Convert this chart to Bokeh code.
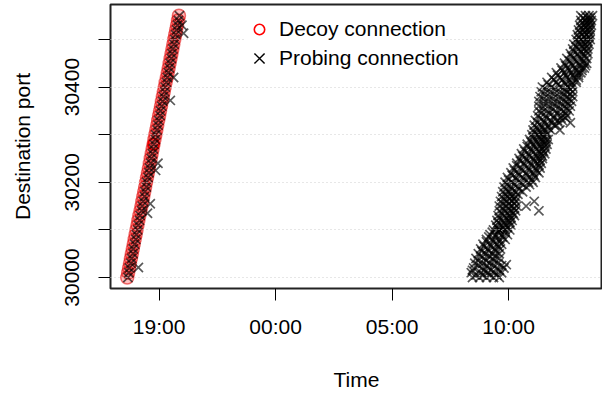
from bokeh.plotting import figure
from bokeh.models import FixedTicker, Range1d, Legend, LegendItem, ColumnDataSource
from bokeh.embed import file_html
from bokeh.resources import INLINE

# ---- data (hours since midnight of day 1; ports) ----
x_tick_values = [19, 24, 29, 34]
x_tick_labels = ["19:00", "00:00", "05:00", "10:00"]
y_tick_values = [30000, 30100, 30200, 30300, 30400, 30500]
y_tick_labels = ["30000", "", "30200", "", "30400", ""]

decoy_ports = [30000, 30010, 30020, 30030, 30040, 30050, 30060, 30070, 30080, 30090,
               30100, 30110, 30120, 30130, 30140, 30150, 30160, 30170, 30180, 30190,
               30200, 30210, 30220, 30230, 30240, 30250, 30260, 30270, 30280, 30290,
               30300, 30310, 30320, 30330, 30340, 30350, 30360, 30370, 30380, 30390,
               30400, 30410, 30420, 30430, 30440, 30450, 30460, 30470, 30480, 30490,
               30500, 30510, 30520, 30530, 30540, 30550]
decoy_times = [17.63, 17.67, 17.71, 17.75, 17.79, 17.83, 17.87, 17.91, 17.95, 17.99,
               18.03, 18.07, 18.11, 18.15, 18.20, 18.24, 18.28, 18.32, 18.36, 18.40,
               18.44, 18.48, 18.52, 18.56, 18.60, 18.64, 18.68, 18.72, 18.76, 18.80,
               18.84, 18.88, 18.92, 18.96, 19.00, 19.04, 19.08, 19.12, 19.16, 19.20,
               19.24, 19.28, 19.33, 19.37, 19.41, 19.45, 19.49, 19.53, 19.57, 19.61,
               19.65, 19.69, 19.73, 19.77, 19.81, 19.85]

# probing connections during the decoy phase
probe1_ports = decoy_ports + [30021, 30135, 30155, 30225, 30240, 30372, 30420, 30513, 30530]
probe1_times = [17.66, 17.70, 17.72, 17.79, 17.82, 17.88, 17.89, 17.95, 18.00, 18.02,
                18.08, 18.10, 18.16, 18.18, 18.25, 18.27, 18.31, 18.37, 18.39, 18.45,
                18.46, 18.52, 18.56, 18.58, 18.64, 18.66, 18.71, 18.75, 18.78, 18.84,
                18.85, 18.91, 18.95, 18.98, 19.04, 19.06, 19.11, 19.15, 19.18, 19.24,
                19.26, 19.31, 19.35, 19.39, 19.44, 19.47, 19.52, 19.55, 19.59, 19.64,
                19.67, 19.71, 19.75, 19.79, 19.83, 19.87,
                18.11, 18.50, 18.62, 18.85, 18.95, 19.48, 19.62, 20.05, 19.98]

# probing connections the next morning: rows of ports, times per row
probe2_row_ports = decoy_ports
probe2_row_times = [
    [32.45, 32.75, 33.05, 33.35, 33.60],
    [32.40, 32.80, 33.10, 33.40, 33.70],
    [32.50, 32.85, 33.15, 33.50, 33.80],
    [32.55, 32.90, 33.20, 33.55],
    [32.60, 32.95, 33.30, 33.60],
    [32.70, 33.00, 33.30, 33.60],
    [32.80, 33.10, 33.40, 33.65],
    [32.90, 33.20, 33.50, 33.70],
    [33.05, 33.30, 33.60, 33.85],
    [33.20, 33.45, 33.70, 33.95],
    [33.35, 33.60, 33.85, 34.05],
    [33.45, 33.70, 33.90, 34.10],
    [33.50, 33.75, 34.00, 34.15],
    [33.55, 33.80, 34.05, 34.25],
    [33.60, 33.85, 34.10, 34.30],
    [33.60, 33.90, 34.15, 34.35],
    [33.65, 33.90, 34.15, 34.30],
    [33.70, 33.95, 34.15, 34.30],
    [33.75, 34.00, 34.30, 34.60],
    [33.80, 34.10, 34.40, 34.75],
    [33.85, 34.15, 34.50, 34.85, 35.05],
    [33.95, 34.30, 34.60, 34.90, 35.15],
    [34.10, 34.40, 34.75, 35.05, 35.30],
    [34.20, 34.50, 34.85, 35.15, 35.35],
    [34.35, 34.65, 34.95, 35.25, 35.40],
    [34.45, 34.75, 35.05, 35.30, 35.45],
    [34.55, 34.85, 35.15, 35.40, 35.55],
    [34.65, 34.95, 35.20, 35.45, 35.60],
    [34.80, 35.05, 35.30, 35.55, 35.65],
    [34.90, 35.15, 35.40, 35.60, 35.70],
    [35.00, 35.25, 35.45, 35.65],
    [35.05, 35.30, 35.55, 35.80],
    [35.10, 35.40, 35.70, 35.95, 36.05],
    [35.15, 35.50, 35.80, 36.10, 36.30],
    [35.25, 35.60, 35.95, 36.30, 36.50],
    [35.30, 35.65, 36.00, 36.35, 36.60],
    [35.30, 35.70, 36.05, 36.40, 36.65],
    [35.30, 35.70, 36.10, 36.45, 36.70],
    [35.35, 35.75, 36.15, 36.50, 36.75],
    [35.40, 35.80, 36.20, 36.50, 36.75],
    [35.45, 35.85, 36.25, 36.55, 36.75],
    [35.65, 36.05, 36.40, 36.70, 36.90],
    [35.85, 36.20, 36.50, 36.80, 37.00],
    [36.05, 36.40, 36.70, 37.00, 37.10],
    [36.25, 36.55, 36.85, 37.15, 37.25],
    [36.40, 36.70, 37.00, 37.25, 37.35],
    [36.50, 36.80, 37.10, 37.35],
    [36.65, 36.95, 37.20, 37.40],
    [36.75, 37.00, 37.25, 37.40],
    [36.80, 37.05, 37.30, 37.45],
    [36.90, 37.10, 37.35, 37.50],
    [36.95, 37.15, 37.35, 37.50],
    [37.00, 37.20, 37.40, 37.50],
    [37.05, 37.25, 37.40, 37.55],
    [37.10, 37.30, 37.45, 37.55],
    [37.10, 37.30, 37.45, 37.60],
]
probe2_mid_ports = [30005, 30015, 30025, 30035, 30045, 30055, 30065, 30075, 30085, 30095,
                    30105, 30115, 30125, 30135, 30145, 30155, 30165, 30175, 30185, 30195,
                    30205, 30215, 30225, 30235, 30245, 30255, 30265, 30275, 30285, 30295,
                    30305, 30315, 30325, 30335, 30345, 30355, 30365, 30375, 30385, 30395,
                    30405, 30415, 30425, 30435, 30445, 30455, 30465, 30475, 30485, 30495,
                    30505, 30515, 30525, 30535, 30545]
probe2_mid_times = [
    [32.60, 32.90, 33.20, 33.50],
    [32.45, 32.95, 33.25, 33.60],
    [32.70, 33.05, 33.35, 33.70],
    [32.70, 33.05, 33.40],
    [32.80, 33.15, 33.45],
    [32.85, 33.15, 33.45],
    [32.95, 33.25, 33.55],
    [33.05, 33.35, 33.60],
    [33.15, 33.45, 33.75],
    [33.30, 33.55, 33.85],
    [33.50, 33.75, 33.95],
    [33.55, 33.80, 34.05],
    [33.60, 33.90, 34.10],
    [33.70, 33.95, 34.20],
    [33.75, 34.00, 34.25],
    [33.75, 34.00, 34.25],
    [33.80, 34.05, 34.25],
    [33.85, 34.10, 34.40],
    [33.90, 34.15, 34.45],
    [33.95, 34.25, 34.60, 34.90],
    [34.00, 34.35, 34.70, 35.00],
    [34.15, 34.45, 34.80, 35.10],
    [34.25, 34.60, 34.90, 35.20],
    [34.35, 34.70, 35.00, 35.30],
    [34.50, 34.80, 35.10, 35.35],
    [34.60, 34.90, 35.20, 35.45],
    [34.70, 35.00, 35.30, 35.50],
    [34.80, 35.10, 35.35, 35.55],
    [34.95, 35.20, 35.45, 35.60],
    [35.05, 35.30, 35.50],
    [35.10, 35.35, 35.60],
    [35.20, 35.45, 35.70],
    [35.25, 35.55, 35.85, 36.15],
    [35.35, 35.65, 35.95, 36.25, 36.45],
    [35.40, 35.75, 36.10, 36.45],
    [35.45, 35.85, 36.20, 36.50],
    [35.50, 35.90, 36.25, 36.55],
    [35.50, 35.90, 36.30, 36.60],
    [35.55, 35.95, 36.35, 36.65],
    [35.60, 36.00, 36.40, 36.65],
    [35.70, 36.10, 36.45, 36.70],
    [35.95, 36.30, 36.60, 36.90],
    [36.10, 36.45, 36.75, 37.00],
    [36.30, 36.60, 36.90, 37.15],
    [36.45, 36.75, 37.05, 37.30],
    [36.60, 36.90, 37.20],
    [36.70, 37.00, 37.25],
    [36.80, 37.10, 37.35],
    [36.90, 37.15, 37.35],
    [37.00, 37.20, 37.40],
    [37.00, 37.25, 37.45],
    [37.05, 37.25, 37.45],
    [37.10, 37.30, 37.50],
    [37.15, 37.35, 37.50],
    [37.20, 37.40, 37.50],
]
probe2_extra_ports = [30150, 30160, 30140, 30310, 30325, 30027]
probe2_extra_times = [34.75, 35.10, 35.30, 36.20, 36.65, 33.90]

probe_ports = list(probe1_ports) + list(probe2_extra_ports)
probe_times = list(probe1_times) + list(probe2_extra_times)
for row_ports, row_times in ((probe2_row_ports, probe2_row_times),
                             (probe2_mid_ports, probe2_mid_times)):
    for port, times in zip(row_ports, row_times):
        for t in times:
            probe_ports.append(port)
            probe_times.append(t)

FONT = "Liberation Sans"

p = figure(width=602, height=393, output_backend="svg", toolbar_location=None,
           x_range=Range1d(16.913, 38.03), y_range=Range1d(29976.9, 30573.5),
           min_border_left=110, min_border_right=0, min_border_top=4,
           min_border_bottom=105)

p.outline_line_color = "#222222"
p.outline_line_width = 2
p.background_fill_color = "white"
p.border_fill_color = "white"

p.xgrid.visible = False
p.ygrid.ticker = FixedTicker(ticks=y_tick_values)
p.ygrid.grid_line_color = "#cfcfcf"
p.ygrid.grid_line_dash = "1 3"
p.ygrid.grid_line_width = 1
p.ygrid.level = "guide"

for ax in (p.xaxis[0], p.yaxis[0]):
    ax.axis_line_color = None
    ax.major_tick_in = 0
    ax.major_tick_out = 12
    ax.major_tick_line_color = "black"
    ax.minor_tick_line_color = None
    ax.major_label_text_font = FONT
    ax.major_label_text_font_size = "21px"
    ax.major_label_text_color = "black"
    ax.axis_label_text_font = FONT
    ax.axis_label_text_font_size = "21px"
    ax.axis_label_text_font_style = "normal"
    ax.axis_label_text_color = "black"

p.xaxis.ticker = FixedTicker(ticks=x_tick_values)
p.xaxis.major_label_overrides = dict(zip(x_tick_values, x_tick_labels))
p.xaxis.major_label_standoff = 14
p.xaxis.axis_label = "Time"
p.xaxis.axis_label_standoff = 27

p.yaxis.ticker = FixedTicker(ticks=y_tick_values)
p.yaxis.major_label_overrides = dict(zip(y_tick_values, y_tick_labels))
p.yaxis.major_label_orientation = "vertical"
p.yaxis.major_label_standoff = 19
p.yaxis.axis_label = "Destination port"
p.yaxis.axis_label_standoff = 29

# legend renderers: each repeats one point of its own series, drawn underneath it
leg_decoy = p.scatter(x="x", y="y", marker="circle", size=11, fill_color=None,
                      line_color="red", line_width=1.6, level="underlay",
                      source=ColumnDataSource(dict(x=decoy_times[28:29], y=decoy_ports[28:29])))
leg_probe = p.scatter(x="x", y="y", marker="x", size=11, line_color="black", line_width=1.5,
                      level="underlay",
                      source=ColumnDataSource(dict(x=probe2_row_times[10][1:2],
                                                   y=probe2_row_ports[10:11])))

p.scatter(x=decoy_times, y=decoy_ports, marker="circle", size=13,
          fill_color="red", fill_alpha=0.25, line_color="#e00000", line_alpha=0.55,
          line_width=1.5)
p.scatter(x=probe_times, y=probe_ports, marker="x", size=13,
          line_color="black", line_alpha=0.65, line_width=1.7)

legend_common = dict(border_line_color=None, background_fill_color="white",
                     background_fill_alpha=1.0, padding=0, margin=0, spacing=0,
                     label_text_color="black", label_text_font=FONT,
                     label_text_font_size="21px")
legend_decoy = Legend(items=[LegendItem(label="Decoy connection", renderers=[leg_decoy])],
                      location=(136, 245), glyph_width=26, glyph_height=28,
                      label_height=28, label_standoff=7, **legend_common)
legend_probe = Legend(items=[LegendItem(label="Probing connection", renderers=[leg_probe])],
                      location=(131, 212), glyph_width=36, glyph_height=36,
                      label_height=36, label_standoff=2, **legend_common)
p.add_layout(legend_probe)
p.add_layout(legend_decoy)

open("out.html", "w").write(file_html(p, INLINE))
